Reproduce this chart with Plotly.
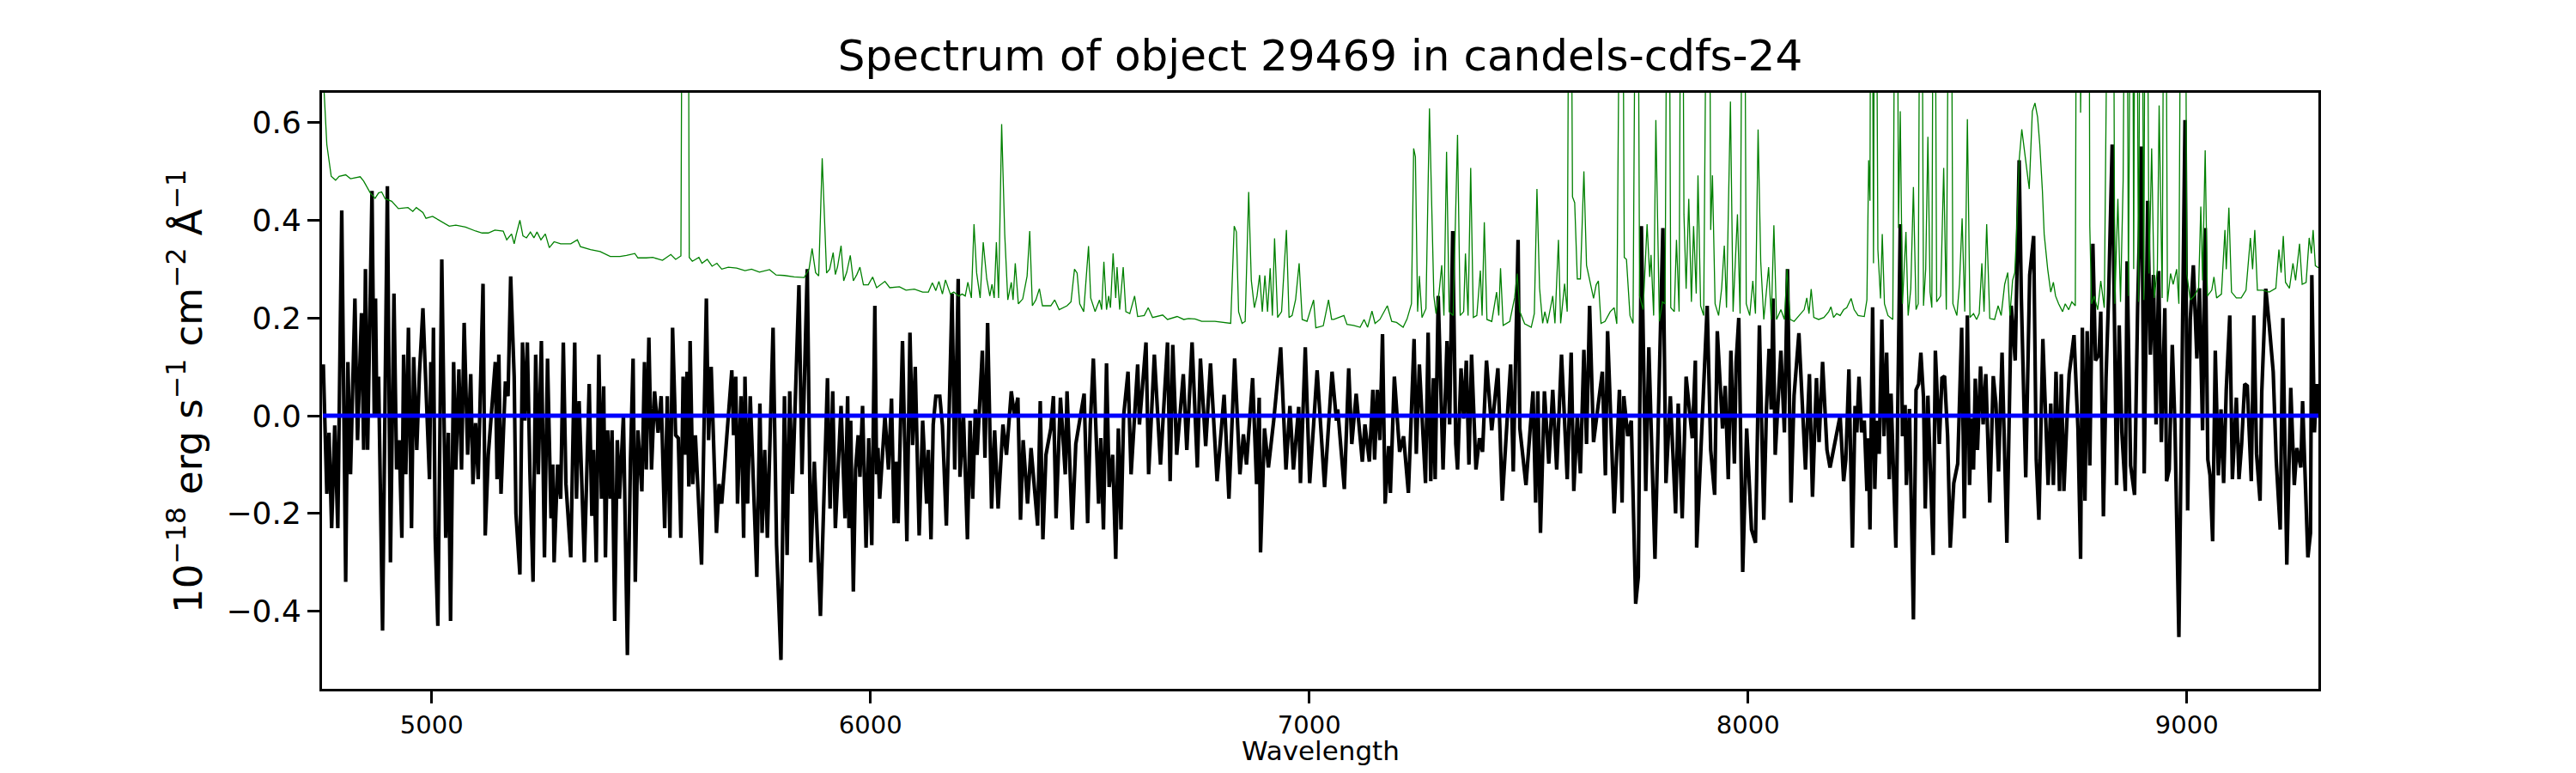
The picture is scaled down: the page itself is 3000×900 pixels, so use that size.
import plotly.graph_objects as go

# ---------------- data (wavelength [A], flux [1e-18 erg/s/cm2/A]) ----------------
obj_blue_end = [
    (4753, 0.105), (4761, -0.16), (4766, -0.035), (4772, -0.23), (4779, -0.02), (4786, -0.23),
    (4795, 0.42), (4804, -0.34), (4809, 0.11), (4815, -0.12), (4825, 0.24), (4831, -0.05),
    (4840, 0.21), (4845, -0.07), (4849, 0.30), (4854, -0.07), (4864, 0.46), (4869, 0.0),
    (4872, 0.24), (4875, 0.0), (4879, 0.08), (4888, -0.44), (4899, 0.47), (4906, -0.30),
    (4914, 0.25), (4920, -0.11), (4926, -0.05), (4932, -0.25), (4936, 0.125), (4941, -0.12),
    (4947, 0.18), (4954, -0.23), (4959, 0.12), (4966, -0.07), (4972, 0.085), (4980, 0.22),
    (4995, -0.13), (4998, 0.11), (5002, 0.0), (5004, 0.18), (5008, -0.25), (5014, -0.43),
    (5023, 0.32), (5032, -0.25), (5038, -0.035), (5043, -0.42), (5050, 0.11), (5055, -0.11),
    (5062, 0.095), (5068, -0.11), (5074, 0.19), (5082, -0.08), (5089, 0.085), (5094, -0.14),
    (5100, -0.015), (5106, -0.13), (5117, 0.27), (5122, -0.245), (5129, -0.08), (5145, 0.11),
    (5149, -0.13), (5153, 0.125), (5158, -0.16), (5168, 0.07), (5174, 0.04), (5180, 0.285),
    (5188, 0.08), (5192, -0.2), (5201, -0.325), (5207, 0.15), (5212, -0.01), (5218, 0.15),
    (5224, -0.12), (5231, -0.34), (5237, 0.125), (5243, -0.12), (5250, 0.153), (5257, -0.29),
    (5264, 0.117), (5272, -0.21), (5276, -0.10), (5279, -0.30), (5287, -0.10), (5294, -0.17),
    (5300, 0.15), (5306, -0.14), (5317, -0.29), (5326, 0.15), (5330, -0.17), (5336, 0.03),
    (5348, -0.30), (5359, 0.065), (5365, -0.205), (5369, -0.07), (5375, -0.30), (5381, 0.125),
    (5387, -0.17), (5392, 0.06), (5396, -0.29), (5401, -0.03), (5407, -0.17), (5411, -0.03),
    (5417, -0.42), (5423, -0.05), (5428, -0.17), (5437, 0.0), (5446, -0.49), (5453, -0.09),
    (5459, 0.117), (5464, -0.34), (5470, -0.03), (5479, -0.155), (5485, 0.11), (5489, -0.11),
    (5495, 0.16), (5501, -0.11), (5508, 0.05), (5516, -0.035), (5523, 0.04), (5531, -0.23),
    (5537, 0.04), (5543, -0.25), (5549, 0.18), (5556, -0.04), (5562, -0.046), (5568, -0.25),
    (5573, 0.08), (5577, -0.08), (5582, 0.09), (5586, -0.145), (5589, 0.153), (5595, -0.14),
    (5601, -0.04), (5615, -0.305), (5626, 0.24), (5631, -0.05), (5637, 0.10), (5649, -0.24),
    (5655, -0.14), (5661, -0.18), (5684, 0.093), (5688, -0.04), (5693, 0.08), (5697, -0.18),
    (5705, 0.04), (5711, -0.25), (5714, 0.08), (5720, -0.18), (5726, 0.04), (5741, -0.33),
    (5748, 0.025), (5753, -0.24), (5759, -0.07), (5765, -0.25), (5778, 0.18), (5786, -0.265),
    (5796, -0.50), (5804, 0.04), (5810, -0.285), (5816, 0.05), (5822, -0.16), (5837, 0.267),
    (5844, -0.12), (5856, 0.30), (5864, -0.30), (5872, -0.094), (5886, -0.41), (5902, 0.077),
    (5908, -0.19),
]
obj_green_part = [
    (5914, 0.05), (5920, -0.23), (5933, 0.02), (5942, -0.21), (5948, 0.04), (5951, -0.23),
    (5955, -0.01), (5961, -0.36), (5966, -0.11), (5972, -0.04), (5976, -0.125), (5982, 0.02),
    (5990, -0.27), (5996, -0.046), (6003, -0.265), (6010, 0.225), (6014, -0.12), (6017, -0.066),
    (6021, -0.17), (6027, -0.086), (6033, 0.0), (6041, -0.11), (6048, 0.035), (6054, -0.22),
    (6059, -0.094), (6063, -0.22), (6073, 0.153), (6083, -0.257), (6090, 0.17), (6096, -0.06),
    (6102, 0.10), (6111, -0.245), (6119, -0.01), (6128, -0.18), (6132, -0.07), (6138, -0.253),
    (6143, -0.018), (6149, 0.04), (6158, 0.04), (6164, -0.02), (6173, -0.225), (6186, 0.25),
    (6192, -0.11), (6200, 0.28), (6204, -0.125), (6212, 0.0), (6221, -0.253), (6227, -0.01),
    (6233, -0.17), (6239, 0.013), (6243, -0.08), (6255, 0.133), (6261, -0.086), (6267, 0.19),
    (6276, -0.19), (6283, -0.03), (6291, -0.19), (6302, -0.018), (6310, -0.08), (6321, 0.05),
    (6328, 0.0), (6336, 0.037), (6342, -0.213), (6348, -0.05), (6358, -0.18), (6366, -0.066),
    (6381, -0.225), (6387, 0.03), (6393, -0.253), (6400, -0.08), (6411, -0.026), (6417, 0.04),
    (6423, -0.21), (6433, 0.037), (6444, -0.12), (6448, 0.05), (6460, -0.233), (6468, -0.058),
    (6487, 0.045), (6495, -0.22), (6501, -0.018), (6508, 0.117), (6520, -0.18), (6525, -0.046),
    (6531, -0.233), (6538, 0.107), (6544, -0.146), (6552, -0.08), (6559, -0.293), (6565, -0.026),
    (6571, -0.233), (6577, 0.0), (6587, 0.09), (6594, -0.12), (6609, 0.105), (6613, -0.018),
    (6628, 0.15), (6634, -0.12), (6647, 0.125), (6661, -0.1), (6677, 0.15), (6683, -0.134),
    (6689, 0.145), (6698, -0.08), (6713, 0.085), (6721, -0.07), (6733, 0.15), (6745, -0.106),
    (6752, 0.117), (6764, -0.062), (6775, 0.107), (6790, -0.134), (6799, -0.026), (6806, 0.043),
    (6817, -0.17), (6830, 0.117), (6842, -0.12), (6850, -0.038), (6857, -0.1), (6871, 0.077),
    (6880, -0.14), (6886, 0.037), (6889, -0.28), (6898, -0.026), (6907, -0.106), (6919, -0.01),
    (6935, 0.14), (6947, -0.11), (6956, 0.02), (6964, -0.11), (6976, 0.018), (6980, -0.138),
    (6991, 0.14), (7001, -0.138), (7010, -0.018), (7018, 0.093), (7035, -0.146), (7052, 0.09),
    (7062, -0.01),
]
obj_red_part = [
    (7065, 0.013), (7080, -0.15), (7090, 0.097), (7097, -0.058), (7107, 0.045), (7121, -0.094),
    (7127, -0.018), (7137, -0.094), (7145, 0.053), (7149, -0.09), (7155, 0.053), (7161, -0.05),
    (7167, 0.167), (7173, -0.18), (7181, -0.062), (7185, -0.158), (7194, 0.08), (7206, -0.074),
    (7215, -0.042), (7226, -0.158), (7239, 0.157), (7244, -0.078), (7251, 0.105), (7265, -0.138),
    (7271, 0.17), (7277, -0.134), (7283, 0.077), (7287, -0.13), (7294, 0.245), (7305, -0.11),
    (7314, 0.153), (7320, -0.018), (7327, 0.378), (7334, -0.058), (7338, -0.11), (7346, 0.097),
    (7352, -0.006), (7358, 0.113), (7364, -0.1), (7370, 0.125), (7380, -0.11), (7388, -0.046),
    (7395, -0.074), (7404, 0.113), (7416, -0.03), (7430, 0.097), (7440, -0.174), (7453, 0.02),
    (7459, 0.105), (7465, -0.114), (7476, 0.36), (7480, -0.026), (7494, -0.142), (7510, 0.05),
    (7516, -0.178), (7521, 0.05), (7527, -0.24), (7536, 0.05), (7546, -0.098), (7555, 0.053),
    (7564, -0.11), (7575, 0.125), (7588, -0.13), (7597, 0.129), (7603, -0.154), (7611, 0.0),
    (7618, -0.118), (7626, 0.135), (7632, -0.058), (7639, 0.225), (7648, -0.054), (7668, 0.09),
    (7675, -0.122), (7680, 0.173), (7695, -0.2), (7707, 0.053), (7713, -0.178), (7717, 0.04),
    (7726, -0.042), (7734, -0.01), (7744, -0.385), (7750, -0.33), (7757, 0.388), (7767, -0.154),
    (7774, 0.14), (7788, -0.293), (7806, 0.384), (7813, -0.138), (7823, 0.04), (7835, -0.2),
    (7841, 0.025), (7850, -0.21), (7859, 0.08), (7873, -0.046), (7880, 0.113), (7883, -0.27),
    (7907, 0.225), (7915, -0.07), (7924, -0.162), (7930, 0.173), (7942, -0.026), (7948, 0.061),
    (7955, -0.13), (7961, 0.133), (7969, -0.098), (7973, 0.11), (7979, 0.20), (7988, -0.32),
    (7997, -0.026), (8008, -0.233), (8017, -0.26), (8026, 0.185), (8036, -0.213), (8042, 0.013),
    (8048, 0.137), (8053, 0.013), (8057, 0.24), (8062, -0.08), (8075, 0.133), (8083, -0.034),
    (8090, 0.30), (8098, -0.178), (8105, 0.041), (8116, 0.169), (8131, -0.11), (8140, 0.085),
    (8147, -0.166), (8156, 0.077), (8162, -0.054), (8170, 0.11), (8180, -0.07), (8187, -0.106),
    (8210, 0.0),
]
obj_ir_part = [
    (8218, -0.134), (8223, -0.09), (8230, 0.095), (8238, -0.27), (8244, 0.02), (8248, -0.034),
    (8253, 0.08), (8259, -0.034), (8265, -0.01), (8271, -0.154), (8274, -0.046), (8278, -0.233),
    (8284, 0.222), (8289, -0.15), (8293, -0.01), (8299, -0.078), (8305, 0.197), (8310, -0.042),
    (8316, 0.129), (8322, -0.13), (8326, 0.045), (8337, -0.27), (8347, 0.392), (8352, -0.042),
    (8358, 0.022), (8361, -0.142), (8368, 0.014), (8377, -0.417), (8383, 0.053), (8389, 0.065),
    (8394, 0.129), (8400, 0.037), (8404, -0.19), (8410, 0.041), (8416, -0.122), (8422, -0.285),
    (8427, 0.133), (8436, -0.058), (8442, 0.077), (8448, 0.081), (8455, -0.042), (8461, -0.27),
    (8469, -0.138), (8478, -0.098), (8487, 0.18), (8493, -0.21), (8500, 0.205), (8505, -0.142),
    (8509, -0.006), (8514, -0.11), (8518, 0.076), (8523, -0.07), (8530, 0.101), (8536, -0.018),
    (8542, 0.085), (8551, -0.178), (8559, 0.081), (8565, 0.025), (8571, -0.114), (8579, 0.129),
    (8590, -0.26), (8594, -0.09), (8600, 0.225), (8609, 0.113), (8618, 0.523), (8623, 0.24),
    (8629, -0.01), (8633, -0.126), (8642, 0.288), (8651, 0.368), (8657, -0.09), (8663, -0.213),
    (8672, 0.157), (8678, 0.022), (8684, -0.142), (8690, 0.025), (8696, -0.142), (8702, 0.09),
    (8710, -0.154), (8714, 0.085), (8720, -0.154), (8726, -0.026), (8732, 0.085), (8743, 0.165),
    (8752, -0.026), (8758, -0.293), (8762, 0.18), (8768, -0.174), (8773, 0.173), (8779, -0.102),
    (8786, 0.352), (8792, 0.113), (8800, 0.125), (8804, 0.213), (8810, -0.206), (8816, 0.077),
    (8822, 0.249), (8830, 0.555), (8836, 0.085), (8840, -0.142), (8846, 0.185), (8852, -0.034),
    (8860, -0.154), (8864, 0.316), (8872, -0.102), (8881, -0.162), (8888, 0.221), (8897, 0.551),
    (8903, -0.118), (8911, 0.44), (8917, 0.125), (8924, 0.288), (8930, -0.018), (8936, 0.296),
    (8942, -0.054), (8950, 0.22), (8954, -0.134), (8960, -0.11), (8967, 0.145), (8973, -0.018),
    (8982, -0.453), (8988, 0.053), (8996, 0.605), (9002, -0.194), (9008, 0.197), (9015, 0.308),
    (9023, 0.117), (9029, 0.261), (9036, -0.03), (9042, 0.384), (9048, -0.09), (9053, -0.122),
    (9059, -0.257), (9065, 0.133), (9072, -0.122), (9078, 0.013), (9084, -0.138), (9090, 0.053),
    (9098, 0.205), (9104, -0.13), (9113, 0.037), (9119, -0.13), (9125, -0.058), (9132, 0.065),
    (9138, 0.061), (9147, -0.134), (9153, 0.205), (9159, -0.078), (9167, -0.174), (9171, 0.05),
    (9180, 0.26), (9188, 0.185), (9197, 0.09), (9204, -0.094), (9213, -0.233), (9219, 0.2),
    (9228, -0.305), (9237, 0.057), (9245, -0.142), (9251, -0.066), (9260, -0.106), (9264, 0.03),
    (9270, -0.11), (9276, -0.29), (9282, -0.24), (9285, 0.288), (9291, -0.034), (9296, 0.065),
    (9300, 0.0),
]

# noise / sky spectrum (green); values above the plotted range are sky-line peaks
err_blue_end = [
    (4751, 1.2), (4755, 0.66), (4761, 0.555), (4771, 0.49), (4781, 0.482), (4789, 0.49),
    (4804, 0.493), (4815, 0.485), (4837, 0.489), (4845, 0.48), (4860, 0.456), (4871, 0.445),
    (4879, 0.456), (4886, 0.458), (4894, 0.444), (4909, 0.439), (4924, 0.424), (4946, 0.426),
    (4957, 0.418), (4965, 0.426), (4980, 0.416), (4987, 0.404), (5002, 0.408), (5025, 0.396),
    (5040, 0.388), (5055, 0.39), (5077, 0.386), (5100, 0.378), (5115, 0.374), (5129, 0.374),
    (5144, 0.38), (5163, 0.378), (5171, 0.36), (5182, 0.372), (5188, 0.352), (5193, 0.372),
    (5201, 0.40), (5208, 0.368), (5216, 0.364), (5225, 0.376), (5233, 0.364), (5240, 0.376),
    (5249, 0.36), (5259, 0.372), (5268, 0.344), (5279, 0.356), (5294, 0.352), (5317, 0.352),
    (5332, 0.36), (5339, 0.346), (5362, 0.34), (5384, 0.336), (5407, 0.326), (5429, 0.326),
    (5444, 0.328), (5463, 0.332), (5470, 0.323), (5489, 0.323), (5504, 0.324), (5526, 0.318),
    (5545, 0.33), (5556, 0.32), (5568, 0.327), (5573, 1.5), (5583, 1.5), (5587, 0.324),
    (5594, 0.316), (5609, 0.324), (5616, 0.312), (5628, 0.32), (5639, 0.306), (5650, 0.312),
    (5661, 0.30), (5676, 0.304), (5695, 0.302), (5714, 0.297), (5729, 0.3), (5747, 0.294),
    (5770, 0.299), (5785, 0.288), (5804, 0.287), (5826, 0.284), (5849, 0.283), (5860, 0.3),
    (5867, 0.342), (5875, 0.293), (5882, 0.286), (5890, 0.527), (5895, 0.404),
]
err_green_part = [
    (5900, 0.292), (5907, 0.30), (5915, 0.334), (5920, 0.289), (5925, 0.305), (5933, 0.348),
    (5939, 0.276), (5946, 0.294), (5954, 0.328), (5961, 0.276), (5969, 0.289), (5976, 0.304),
    (5984, 0.268), (5995, 0.268), (6005, 0.284), (6014, 0.262), (6033, 0.275), (6044, 0.262),
    (6066, 0.264), (6081, 0.257), (6100, 0.259), (6119, 0.253), (6132, 0.253), (6141, 0.272),
    (6149, 0.256), (6156, 0.275), (6164, 0.249), (6171, 0.278), (6182, 0.249), (6190, 0.253),
    (6201, 0.245), (6209, 0.249), (6216, 0.245), (6222, 0.273), (6230, 0.241), (6236, 0.392),
    (6242, 0.292), (6250, 0.241), (6257, 0.355), (6265, 0.28), (6272, 0.245), (6277, 0.269),
    (6282, 0.241), (6287, 0.355), (6292, 0.241), (6299, 0.597), (6306, 0.372), (6313, 0.237),
    (6321, 0.273), (6325, 0.237), (6330, 0.312), (6337, 0.229), (6347, 0.239), (6357, 0.286),
    (6363, 0.378), (6369, 0.225), (6377, 0.237), (6385, 0.26), (6392, 0.225), (6411, 0.225),
    (6420, 0.237), (6430, 0.217), (6448, 0.225), (6457, 0.233), (6465, 0.30), (6471, 0.292),
    (6477, 0.229), (6486, 0.213), (6497, 0.347), (6502, 0.241), (6512, 0.213), (6522, 0.237),
    (6527, 0.217), (6532, 0.315), (6538, 0.217), (6543, 0.245), (6547, 0.221), (6553, 0.332),
    (6559, 0.241), (6562, 0.304), (6568, 0.217), (6576, 0.304), (6582, 0.213), (6591, 0.209),
    (6602, 0.245), (6609, 0.203), (6624, 0.205), (6633, 0.221), (6643, 0.201), (6666, 0.206),
    (6677, 0.197), (6699, 0.203), (6714, 0.197), (6725, 0.199), (6740, 0.198), (6755, 0.193),
    (6785, 0.193), (6821, 0.189), (6829, 0.388), (6834, 0.376), (6839, 0.213), (6847, 0.189),
    (6854, 0.193), (6862, 0.458), (6868, 0.277), (6875, 0.221), (6881, 0.245), (6887, 0.288),
    (6893, 0.213), (6899, 0.287), (6905, 0.213), (6911, 0.302), (6916, 0.205), (6921, 0.363),
    (6928, 0.201), (6937, 0.213), (6948, 0.38), (6954, 0.201), (6961, 0.205), (6969, 0.238),
    (6977, 0.312), (6984, 0.197), (6995, 0.193), (7003, 0.217), (7010, 0.237), (7015, 0.18),
    (7032, 0.184), (7044, 0.237), (7051, 0.197),
]
err_red_part = [
    (7056, 0.197), (7068, 0.201), (7079, 0.205), (7086, 0.187), (7101, 0.185), (7116, 0.181),
    (7125, 0.197), (7133, 0.181), (7143, 0.214), (7150, 0.189), (7161, 0.197), (7178, 0.225),
    (7188, 0.193), (7199, 0.191), (7214, 0.181), (7223, 0.198), (7233, 0.229), (7238, 0.547),
    (7242, 0.53), (7247, 0.213), (7251, 0.286), (7257, 0.201), (7266, 0.219), (7274, 0.629),
    (7280, 0.364), (7284, 0.245), (7289, 0.209), (7296, 0.253), (7302, 0.308), (7307, 0.205),
    (7313, 0.54), (7319, 0.213), (7328, 0.205), (7338, 0.575), (7344, 0.205), (7352, 0.213),
    (7356, 0.332), (7362, 0.205), (7368, 0.507), (7374, 0.201), (7382, 0.205), (7390, 0.297),
    (7394, 0.205), (7399, 0.396), (7405, 0.197), (7416, 0.193), (7427, 0.253), (7432, 0.205),
    (7436, 0.302), (7442, 0.185), (7457, 0.193), (7468, 0.241), (7474, 0.291), (7480, 0.213),
    (7491, 0.188), (7506, 0.181), (7513, 0.209), (7519, 0.464), (7525, 0.261), (7532, 0.189),
    (7537, 0.213), (7543, 0.189), (7555, 0.245), (7560, 0.189), (7568, 0.36), (7573, 0.189),
    (7582, 0.27), (7588, 0.213), (7594, 1.5), (7600, 0.448), (7605, 0.436), (7611, 0.28),
    (7618, 0.28), (7626, 0.50), (7632, 0.308), (7641, 0.268), (7648, 0.24), (7654, 0.268),
    (7659, 0.276), (7665, 0.189), (7674, 0.193), (7686, 0.213), (7695, 0.221), (7701, 0.188),
    (7712, 1.5), (7718, 0.324), (7723, 0.32), (7731, 0.205), (7738, 0.189), (7747, 1.5),
    (7753, 0.245), (7761, 0.217), (7770, 0.392), (7776, 0.284), (7779, 0.329), (7785, 0.205),
    (7790, 0.605), (7798, 0.193), (7805, 0.233), (7811, 0.229), (7818, 1.5), (7824, 0.221),
    (7832, 0.213), (7837, 0.36), (7843, 0.213), (7849, 1.5), (7854, 0.412), (7859, 0.26),
    (7865, 0.444), (7871, 0.233), (7876, 0.388), (7882, 0.25), (7886, 0.492), (7892, 0.225),
    (7899, 0.205), (7910, 1.5), (7915, 0.38), (7919, 0.492), (7925, 0.229), (7933, 0.205),
    (7940, 0.261), (7946, 0.348), (7951, 0.221), (7960, 0.643), (7966, 0.213), (7976, 0.412),
    (7982, 0.209), (7990, 1.5), (7996, 0.229), (8004, 0.205), (8011, 0.276), (8017, 0.209),
    (8023, 0.586), (8029, 0.316), (8036, 0.197), (8047, 0.304), (8053, 0.197), (8059, 0.39),
    (8065, 0.197), (8075, 0.217), (8083, 0.197), (8089, 0.30), (8096, 0.197), (8105, 0.193),
    (8116, 0.205), (8128, 0.217), (8134, 0.241), (8139, 0.209), (8144, 0.259), (8150, 0.201),
    (8161, 0.197), (8173, 0.201), (8184, 0.213), (8189, 0.223), (8195, 0.201), (8202, 0.209),
    (8210, 0.205),
]
err_ir_part = [
    (8218, 0.217), (8225, 0.221), (8235, 0.24), (8242, 0.217), (8251, 0.205), (8265, 0.203),
    (8271, 0.237), (8275, 0.523), (8278, 0.44), (8281, 1.5), (8286, 0.312), (8290, 1.5),
    (8296, 0.34), (8302, 0.24), (8306, 0.372), (8311, 0.229), (8319, 0.205), (8330, 0.197),
    (8338, 1.5), (8343, 0.384), (8347, 0.623), (8352, 0.229), (8360, 0.376), (8365, 0.205),
    (8371, 0.26), (8377, 0.468), (8383, 0.217), (8388, 0.229), (8394, 1.5), (8400, 0.225),
    (8405, 0.30), (8410, 0.571), (8415, 0.253), (8419, 0.221), (8424, 1.5), (8430, 0.233),
    (8439, 0.245), (8446, 0.507), (8452, 0.217), (8461, 1.5), (8467, 0.229), (8476, 0.205),
    (8482, 0.269), (8488, 0.404), (8494, 0.213), (8500, 0.607), (8506, 0.201), (8514, 0.209),
    (8521, 0.197), (8527, 0.209), (8533, 0.312), (8538, 0.213), (8544, 0.392), (8551, 0.199),
    (8562, 0.197), (8570, 0.225), (8577, 0.205), (8585, 0.269), (8592, 0.293), (8597, 0.205),
    (8603, 0.277), (8608, 0.293), (8612, 0.372), (8618, 0.523), (8624, 0.586), (8633, 0.516),
    (8641, 0.464), (8648, 0.623), (8654, 0.64), (8660, 0.611), (8665, 0.555), (8671, 0.46),
    (8675, 0.372), (8683, 0.30), (8690, 0.253), (8696, 0.273), (8701, 0.245), (8708, 0.229),
    (8717, 0.213), (8723, 0.229), (8731, 0.217), (8738, 0.233), (8746, 0.225), (8750, 1.5),
    (8755, 1.5), (8758, 0.62), (8762, 1.5), (8768, 1.5), (8776, 1.5), (8779, 0.388),
    (8783, 0.229), (8789, 0.245), (8797, 0.217), (8804, 0.276), (8812, 0.221), (8819, 1.5),
    (8825, 1.5), (8831, 1.5), (8836, 0.229), (8843, 0.444), (8849, 0.233), (8855, 0.482),
    (8862, 1.5), (8867, 0.245), (8875, 1.5), (8879, 0.30), (8884, 1.5), (8890, 0.233),
    (8896, 1.5), (8902, 0.237), (8907, 1.5), (8914, 0.291), (8920, 0.547), (8926, 0.241),
    (8933, 0.30), (8937, 0.635), (8944, 0.241), (8950, 1.5), (8956, 0.233), (8963, 0.291),
    (8969, 0.269), (8977, 0.30), (8982, 0.229), (8989, 1.5), (8995, 1.5), (9000, 0.291),
    (9008, 0.237), (9017, 0.245), (9027, 0.261), (9032, 0.428), (9036, 0.277), (9042, 0.543),
    (9047, 0.245), (9057, 0.257), (9062, 0.284), (9068, 0.241), (9079, 0.249), (9087, 0.38),
    (9090, 0.30), (9096, 0.426), (9102, 0.253), (9113, 0.241), (9124, 0.241), (9135, 0.257),
    (9145, 0.364), (9150, 0.30), (9155, 0.38), (9161, 0.257), (9173, 0.257), (9188, 0.253),
    (9203, 0.261), (9210, 0.34), (9215, 0.293), (9220, 0.368), (9225, 0.273), (9234, 0.261),
    (9242, 0.312), (9248, 0.277), (9257, 0.352), (9263, 0.269), (9272, 0.273), (9279, 0.364),
    (9284, 0.332), (9288, 0.38), (9293, 0.307), (9300, 0.303),
]

# best-fit model (blue): flat zero continuum over the observed range
model_wave = [4752.0, 9300.0]
model_flux = [0.0, 0.0]

x_range = [4750, 9300]
y_range = [-0.559, 0.661]
x_ticks = [5000, 6000, 7000, 8000, 9000]
y_ticks = [-0.4, -0.2, 0.0, 0.2, 0.4, 0.6]

title_text = "Spectrum of object 29469 in candels-cdfs-24"
x_label = "Wavelength"
y_label = "10<sup>\u221218</sup> erg s<sup>\u22121</sup> cm<sup>\u22122</sup> \u00c5<sup>\u22121</sup>"

# ---------------- assemble ----------------
obj = obj_blue_end + obj_green_part + obj_red_part + obj_ir_part
err = err_blue_end + err_green_part + err_red_part + err_ir_part
obj_wave = [p[0] for p in obj]
obj_flux = [p[1] for p in obj]
err_wave = [p[0] for p in err]
err_flux = [p[1] for p in err]

FONT = "DejaVu Sans"
PAGE_OFFSET = 8  # default page margin of the html body around the figure

fig = go.Figure()
fig.add_trace(go.Scatter(x=obj_wave, y=obj_flux, mode="lines",
                         line=dict(color="#000000", width=4.2), hoverinfo="skip"))
fig.add_trace(go.Scatter(x=err_wave, y=err_flux, mode="lines",
                         line=dict(color="#008000", width=1.3), hoverinfo="skip"))
fig.add_trace(go.Scatter(x=model_wave, y=model_flux, mode="lines",
                         line=dict(color="#0000ff", width=5), hoverinfo="skip"))

axis_common = dict(showline=True, linecolor="black", linewidth=3, mirror=True,
                   ticks="outside", ticklen=14, tickwidth=3, tickcolor="black",
                   showgrid=False, zeroline=False)

fig.update_layout(
    width=3000, height=900,
    margin=dict(l=375 - PAGE_OFFSET, r=300 + PAGE_OFFSET,
                t=108 - PAGE_OFFSET, b=98 + PAGE_OFFSET, pad=0),
    paper_bgcolor="white", plot_bgcolor="white",
    showlegend=False,
    font=dict(family=FONT, color="black"),
    title=dict(text=title_text, x=0.5, xref="paper", xanchor="center",
               y=1 - (64 - PAGE_OFFSET) / 900, yref="container", yanchor="middle",
               font=dict(family=FONT, size=50, color="black")),
    xaxis=dict(range=x_range, tickvals=x_ticks, ticktext=[str(v) for v in x_ticks],
               tickfont=dict(family=FONT, size=29, color="black"), **axis_common),
    yaxis=dict(range=y_range, tickvals=y_ticks, tickformat=".1f",
               tickfont=dict(family=FONT, size=36, color="black"), **axis_common),
    annotations=[
        dict(text=x_label, xref="paper", yref="paper", x=0.5, y=-0.104,
             xanchor="center", yanchor="middle", showarrow=False,
             font=dict(family=FONT, size=31, color="black")),
        dict(text=y_label, xref="paper", yref="paper", x=-0.0684, y=0.5,
             xanchor="center", yanchor="middle", textangle=-90, showarrow=False,
             font=dict(family=FONT, size=45, color="black")),
    ],
)

fig.write_html("out.html")
